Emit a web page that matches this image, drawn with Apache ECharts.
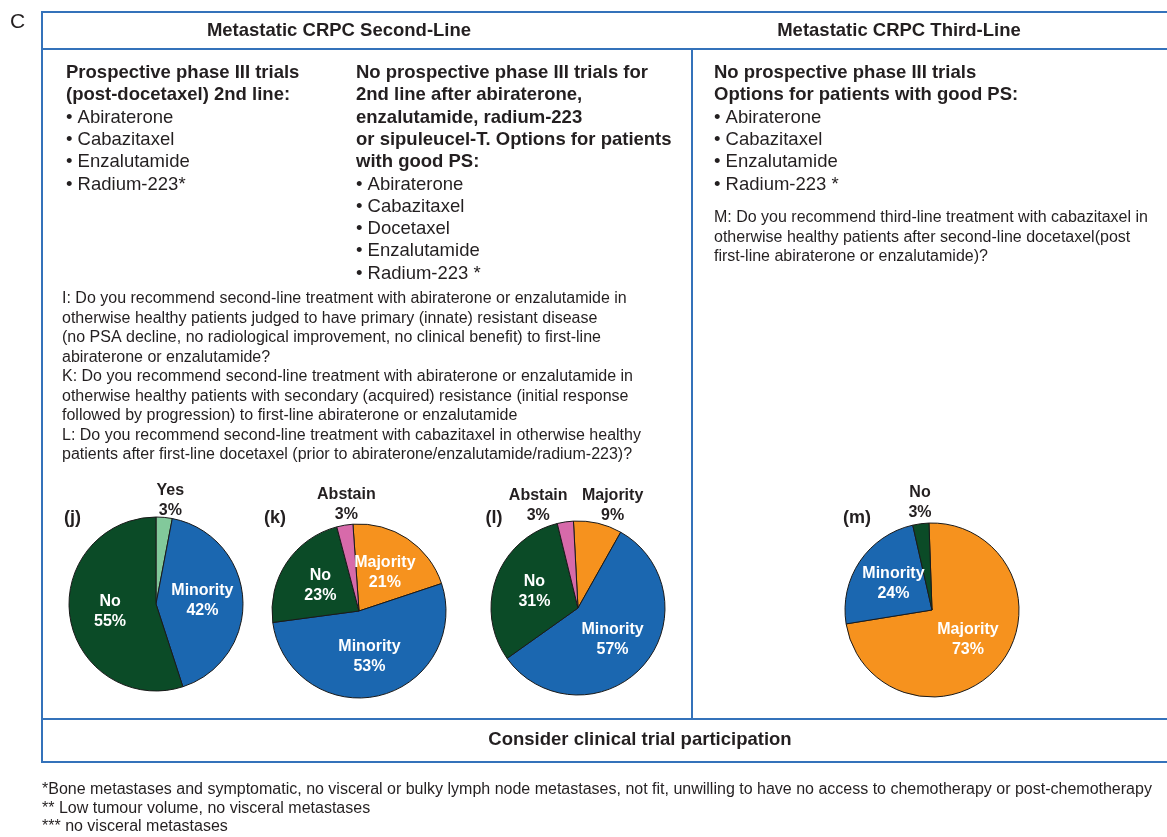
<!DOCTYPE html>
<html>
<head>
<meta charset="utf-8">
<script src="https://cdn.jsdelivr.net/npm/echarts@6/dist/echarts.min.js"></script>
<style>
  html, body { margin: 0; padding: 0; background: #fff; }
  #main { width: 1167px; height: 837px; }
</style>
</head>
<body>
<div id="main"></div>
<script>
// pie data
const jNames = ['Yes', 'Minority', 'No'];
const jValues = [3, 42, 55];
const kNames = ['Majority', 'Minority', 'No', 'Abstain'];
const kValues = [21, 53, 23, 3];
const lNames = ['Majority', 'Minority', 'No', 'Abstain'];
const lValues = [9, 57, 31, 3];
const mNames = ['Majority', 'Minority', 'No'];
const mValues = [73, 24, 3];

// texts
const headLeft = 'Metastatic CRPC Second-Line';
const headRight = 'Metastatic CRPC Third-Line';
const block1Bold = ['Prospective phase III trials', '(post-docetaxel) 2nd line:'];
const block1Items = ['Abiraterone', 'Cabazitaxel', 'Enzalutamide', 'Radium-223*'];
const block2Bold = ['No prospective phase III trials for', '2nd line after abiraterone,', 'enzalutamide, radium-223',
  'or sipuleucel-T. Options for patients', 'with good PS:'];
const block2Items = ['Abiraterone', 'Cabazitaxel', 'Docetaxel', 'Enzalutamide', 'Radium-223 *'];
const questionsLeft = [
  'I: Do you recommend second-line treatment with abiraterone or enzalutamide in',
  'otherwise healthy patients judged to have primary (innate) resistant disease',
  '(no PSA decline, no radiological improvement, no clinical benefit) to first-line',
  'abiraterone or enzalutamide?',
  'K: Do you recommend second-line treatment with abiraterone or enzalutamide in',
  'otherwise healthy patients with secondary (acquired) resistance (initial response',
  'followed by progression) to first-line abiraterone or enzalutamide',
  'L: Do you recommend second-line treatment with cabazitaxel in otherwise healthy',
  'patients after first-line docetaxel (prior to abiraterone/enzalutamide/radium-223)?'
];
const block3Bold = ['No prospective phase III trials', 'Options for patients with good PS:'];
const block3Items = ['Abiraterone', 'Cabazitaxel', 'Enzalutamide', 'Radium-223 *'];
const questionsRight = [
  'M: Do you recommend third-line treatment with cabazitaxel in',
  'otherwise healthy patients after second-line docetaxel(post',
  'first-line abiraterone or enzalutamide)?'
];
const footer = 'Consider clinical trial participation';
const footnotes = [
  '*Bone metastases and symptomatic, no visceral or bulky lymph node metastases, not fit, unwilling to have no access to chemotherapy or post-chemotherapy',
  '** Low tumour volume, no visceral metastases',
  '*** no visceral metastases'
];

const SANS = '"Liberation Sans", Arial, Helvetica, sans-serif';
const INK = '#231f20';
const BOX = '#3472ba';
const colors = {
  Yes: '#82c99b',
  Minority: '#1b67b0',
  No: '#0b4b27',
  Majority: '#f6921e',
  Abstain: '#d76aaa'
};
// small slices get their label above the pie
const outsideOffset = {
  j: { Yes: [10, -57] },
  k: { Abstain: [-5, -61] },
  l: { Abstain: [-33, -56], Majority: [24, -57] },
  m: { No: [-6, -61] }
};

function pie(key, names, values, center, startAngle) {
  return {
    type: 'pie',
    center: center,
    radius: 87,
    startAngle: startAngle,
    clockwise: true,
    animation: false,
    silent: true,
    labelLine: { show: false },
    itemStyle: { borderColor: '#1a1a1a', borderWidth: 1 },
    label: {
      show: true,
      position: 'inside',
      formatter: '{b}\n{c}%',
      color: '#fff',
      fontFamily: SANS,
      fontWeight: 'bold',
      fontSize: 16,
      lineHeight: 20
    },
    data: names.map((n, i) => {
      const off = outsideOffset[key][n];
      const item = { name: n, value: values[i], itemStyle: { color: colors[n] } };
      if (off) item.label = { color: INK, offset: off };
      return item;
    })
  };
}

function text(x, y, str, size, weight, align) {
  return {
    type: 'text',
    silent: true,
    style: {
      x: x, y: y, text: str, fill: INK,
      fontSize: size, fontWeight: weight || 'normal', fontFamily: SANS,
      align: align || 'left', verticalAlign: 'middle'
    }
  };
}

function line(x1, y1, x2, y2) {
  return {
    type: 'line', silent: true,
    shape: { x1: x1, y1: y1, x2: x2, y2: y2 },
    style: { stroke: BOX, lineWidth: 2 }
  };
}

const graphics = [];
// frame
graphics.push(line(42, 12, 1167, 12));
graphics.push(line(42, 49, 1167, 49));
graphics.push(line(42, 11, 42, 763));
graphics.push(line(692, 49, 692, 719));
graphics.push(line(42, 719, 1167, 719));
graphics.push(line(42, 762, 1167, 762));

graphics.push(text(10, 22, 'C', 21, 'normal'));
graphics.push(text(339, 31, headLeft, 18.5, 'bold', 'center'));
graphics.push(text(899, 31, headRight, 18.5, 'bold', 'center'));
graphics.push(text(640, 740, footer, 18.5, 'bold', 'center'));

const step = 22.3;
const big = 18.5;
block1Bold.forEach((s, i) => graphics.push(text(66, 73 + i * step, s, big, 'bold')));
block1Items.forEach((s, i) => graphics.push(text(66, 73 + (i + 2) * step, '\u2022 ' + s, big)));
block2Bold.forEach((s, i) => graphics.push(text(356, 73 + i * step, s, big, 'bold')));
block2Items.forEach((s, i) => graphics.push(text(356, 73 + (i + 5) * step, '\u2022 ' + s, big)));
block3Bold.forEach((s, i) => graphics.push(text(714, 73 + i * step, s, big, 'bold')));
block3Items.forEach((s, i) => graphics.push(text(714, 73 + (i + 2) * step, '\u2022 ' + s, big)));

questionsLeft.forEach((s, i) => graphics.push(text(62, 299 + i * 19.5, s, 16)));
questionsRight.forEach((s, i) => graphics.push(text(714, 218 + i * 19.5, s, 16)));

graphics.push(text(64, 518, '(j)', 18, 'bold'));
graphics.push(text(275, 518, '(k)', 18, 'bold', 'center'));
graphics.push(text(494, 518, '(l)', 18, 'bold', 'center'));
graphics.push(text(857, 518, '(m)', 18, 'bold', 'center'));

footnotes.forEach((s, i) => graphics.push(text(42, 790 + i * 18.5, s, 16)));

const chart = echarts.init(document.getElementById('main'), null, { renderer: 'canvas' });
chart.setOption({
  backgroundColor: '#fff',
  animation: false,
  graphic: graphics,
  series: [
    pie('j', jNames, jValues, [156, 604], 90),
    pie('k', kNames, kValues, [359, 611], 94),
    pie('l', lNames, lValues, [578, 608], 93),
    pie('m', mNames, mValues, [932, 610], 92)
  ]
});
</script>
</body>
</html>
